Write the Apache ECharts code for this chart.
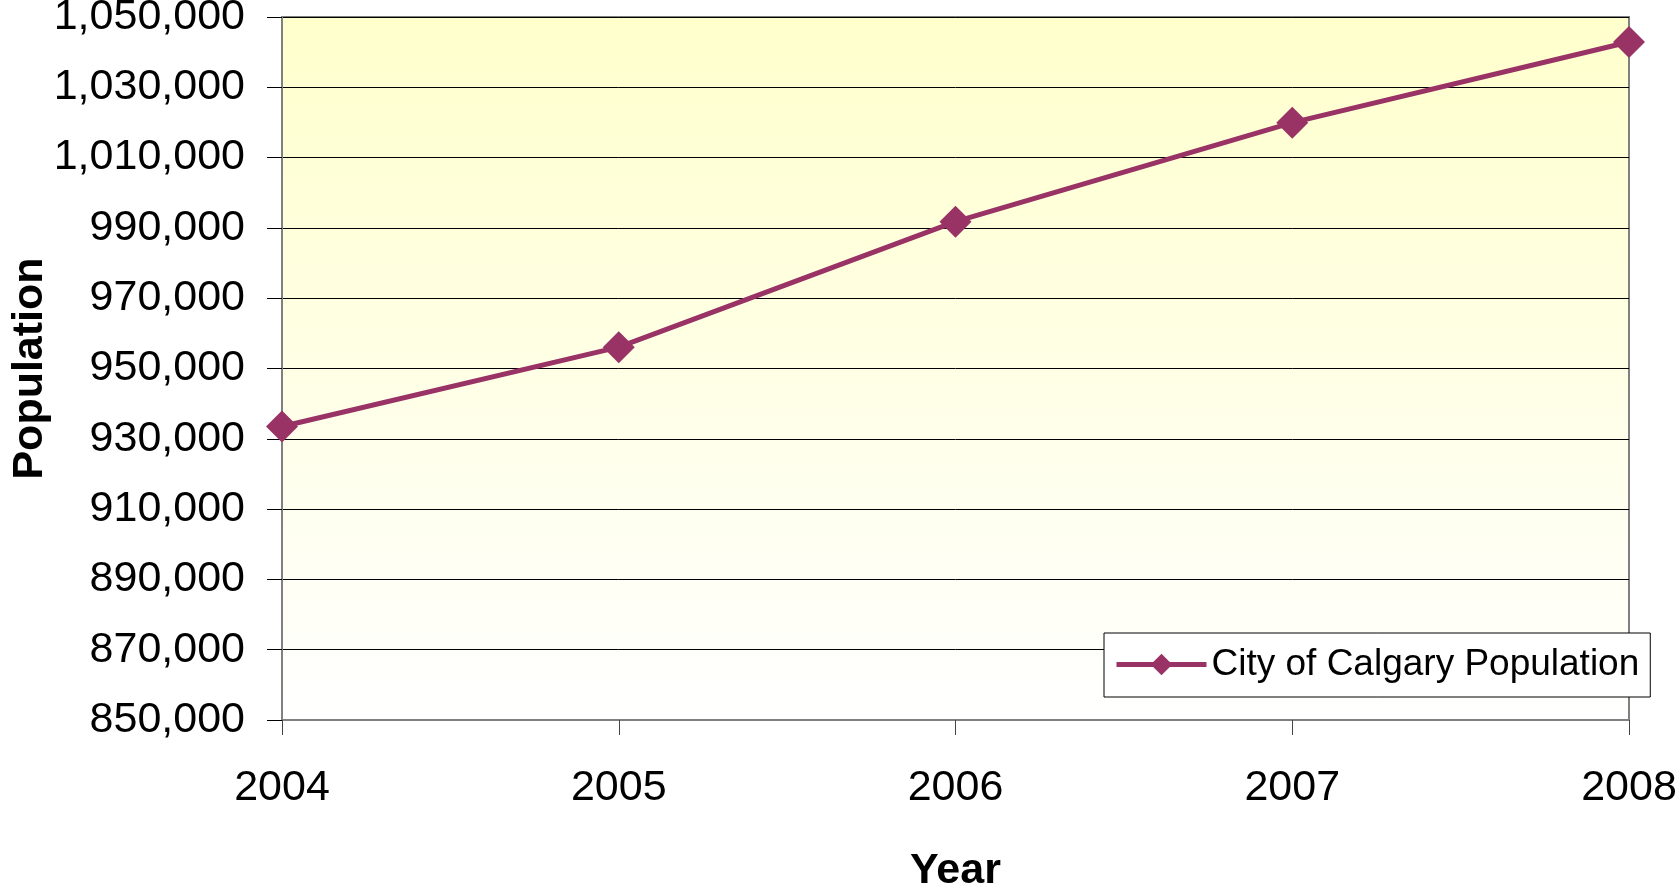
<!DOCTYPE html>
<html>
<head>
<meta charset="utf-8">
<script src="https://cdn.jsdelivr.net/npm/echarts@6/dist/echarts.min.js"></script>
<style>
  html, body { margin: 0; padding: 0; background: #fff; }
  #chart { width: 1678px; height: 889px; }
</style>
</head>
<body>
<div id="chart"></div>
<script>
// data
const years = ['2004', '2005', '2006', '2007', '2008']
const population = [933495, 956078, 991759, 1019942, 1042892]
const seriesName = 'City of Calgary Population'
const yMin = 850000
const yMax = 1050000
const yStep = 20000

const font = "Arial, 'Liberation Sans', sans-serif"
const chart = echarts.init(document.getElementById('chart'))

chart.setOption({
  animation: false,
  grid: {
    left: 282,
    right: 49,
    top: 17,
    bottom: 169,
    outerBoundsMode: 'none',
    containLabel: false,
    show: true,
    borderColor: '#808080',
    borderWidth: 2,
    backgroundColor: {
      type: 'linear', x: 0, y: 0, x2: 0, y2: 1,
      colorStops: [
        { offset: 0, color: '#ffffcc' },
        { offset: 1, color: '#ffffff' }
      ]
    }
  },
  legend: {
    data: [seriesName],
    left: 1104,
    top: 633,
    padding: [13, 11, 14, 10],
    backgroundColor: '#ffffff',
    borderColor: '#000000',
    borderWidth: 1,
    borderRadius: 0,
    itemWidth: 90,
    itemHeight: 27,
    lineStyle: { width: 5 },
    textStyle: { fontFamily: font, fontSize: 37, color: '#000' }
  },
  xAxis: {
    type: 'category',
    data: years,
    boundaryGap: false,
    name: 'Year',
    nameLocation: 'middle',
    nameGap: 130,
    nameMoveOverlap: false,
    nameTextStyle: { fontFamily: font, fontSize: 43, fontWeight: 'bold', color: '#000' },
    axisLine: { lineStyle: { color: '#808080', width: 2 } },
    axisTick: { show: true, length: 15, lineStyle: { color: '#444', width: 1 } },
    axisLabel: { fontFamily: font, fontSize: 43, color: '#000', margin: 47 },
    splitLine: { show: false }
  },
  yAxis: {
    type: 'value',
    min: yMin,
    max: yMax,
    interval: yStep,
    name: 'Population',
    nameLocation: 'middle',
    nameGap: 230,
    nameMoveOverlap: false,
    nameTextStyle: { fontFamily: font, fontSize: 43, fontWeight: 'bold', color: '#000' },
    axisLine: { show: true, lineStyle: { color: '#808080', width: 2 } },
    axisTick: { show: true, length: 15, lineStyle: { color: '#000', width: 1 } },
    axisLabel: {
      fontFamily: font,
      fontSize: 43,
      color: '#000',
      margin: 37,
      formatter: v => v.toLocaleString('en-US')
    },
    splitLine: { show: true, lineStyle: { color: '#000', width: 1 } }
  },
  series: [
    {
      name: seriesName,
      type: 'line',
      data: population,
      symbol: 'diamond',
      symbolSize: 32,
      itemStyle: { color: '#993366' },
      lineStyle: { color: '#993366', width: 5 }
    }
  ]
})
</script>
</body>
</html>
